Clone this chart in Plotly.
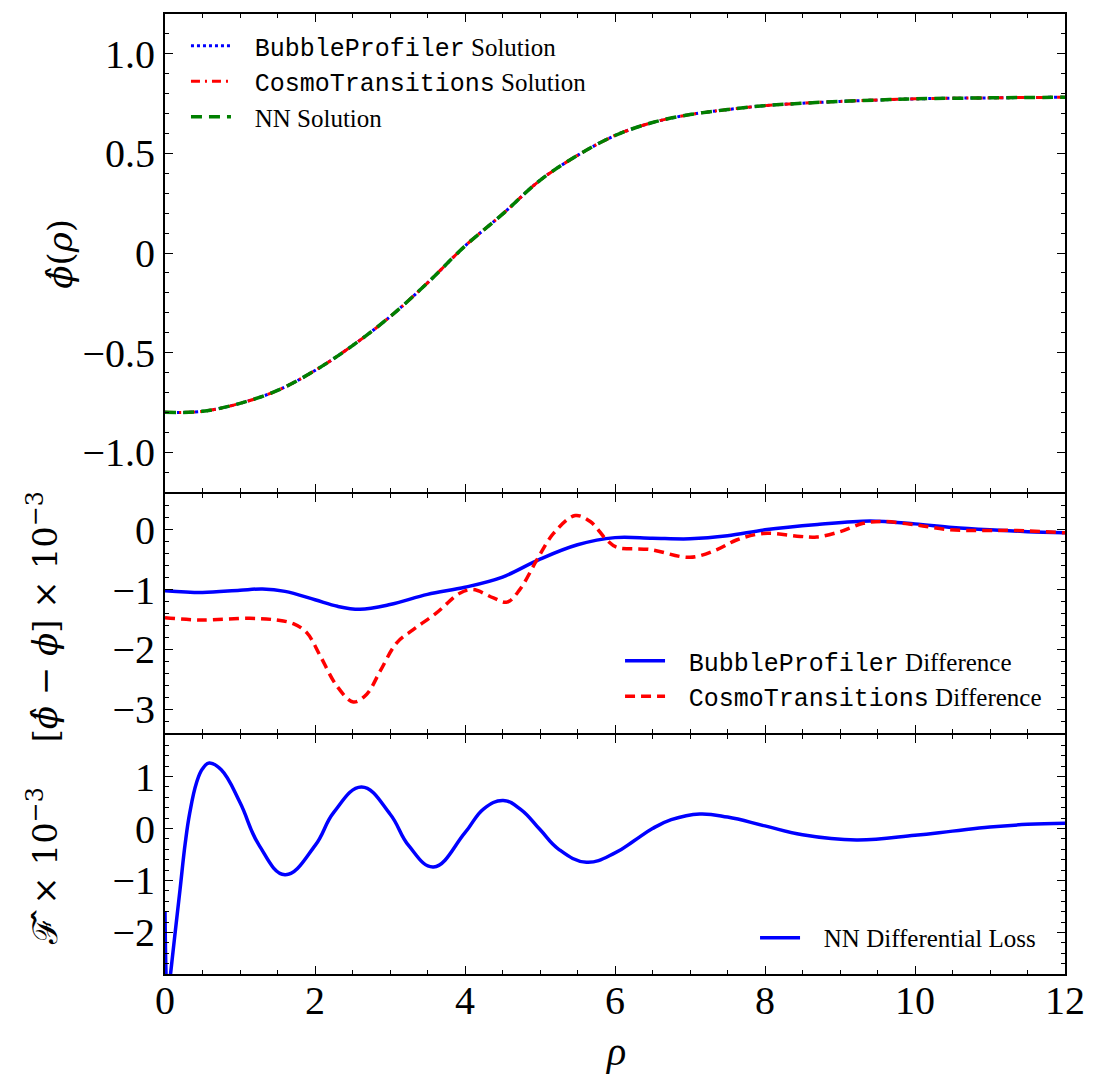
import plotly.graph_objects as go
from plotly.subplots import make_subplots

# ---------------- data ----------------
# Top panel: field profiles phi(rho)
rho_phi = [0, 0.5, 1.0, 1.5, 2.0, 2.5, 3.0, 3.5, 4.0, 4.5, 5.0, 5.5, 6.0, 6.5,
           7.0, 7.5, 8.0, 8.5, 9.0, 9.5, 10.0, 11.0, 12.0]
phi_bubbleprofiler = [-0.80, -0.795, -0.755, -0.69, -0.59, -0.465, -0.32, -0.15, 0.035,
                      0.195, 0.365, 0.49, 0.59, 0.655, 0.695, 0.72, 0.74, 0.752, 0.761,
                      0.768, 0.774, 0.779, 0.782]
phi_cosmotransitions = [-0.80, -0.795, -0.755, -0.69, -0.59, -0.465, -0.32, -0.15, 0.035,
                        0.195, 0.365, 0.49, 0.59, 0.655, 0.695, 0.72, 0.74, 0.752, 0.761,
                        0.768, 0.774, 0.779, 0.782]
phi_nn = [-0.80, -0.795, -0.755, -0.69, -0.59, -0.465, -0.32, -0.15, 0.035,
          0.195, 0.365, 0.49, 0.59, 0.655, 0.695, 0.72, 0.74, 0.752, 0.761,
          0.768, 0.774, 0.779, 0.782]

# Middle panel: differences (x 10^-3)
rho_diff_bp = [0, 0.5, 1.0, 1.3, 1.6, 2.0, 2.3, 2.6, 3.0, 3.5, 4.0, 4.5, 5.0, 5.5,
               6.0, 6.5, 7.0, 7.5, 8.0, 8.7, 9.4, 10.0, 10.5, 11.0, 11.5, 12.0]
diff_bp = [-1.02, -1.05, -1.01, -0.99, -1.03, -1.17, -1.28, -1.33, -1.25, -1.08, -0.96,
           -0.79, -0.49, -0.25, -0.13, -0.14, -0.15, -0.1, 0.0, 0.09, 0.15, 0.1, 0.04,
           0.0, -0.03, -0.05]

rho_diff_ct = [0, 0.47, 1.13, 1.49, 1.71, 1.89, 2.07, 2.29, 2.51, 2.69, 2.87, 3.09,
               3.31, 3.62, 3.93, 4.11, 4.38, 4.56, 4.73, 4.96, 5.18, 5.47, 5.67,
               5.89, 6.02, 6.47, 7.0, 7.36, 7.62, 7.98, 8.47, 8.69, 9.0, 9.31,
               9.58, 10.02, 10.47, 10.91, 11.36, 12.0]
diff_ct = [-1.47, -1.51, -1.48, -1.51, -1.57, -1.72, -2.11, -2.61, -2.88, -2.75, -2.36,
           -1.89, -1.67, -1.39, -1.06, -1.0, -1.14, -1.21, -1.0, -0.5, -0.06, 0.24,
           0.14, -0.17, -0.29, -0.33, -0.46, -0.33, -0.17, -0.06, -0.11, -0.12, -0.03,
           0.11, 0.14, 0.08, 0.0, -0.01, -0.01, -0.05]

# Bottom panel: NN differential loss (x 10^-3)
rho_loss = [0, 0.035, 0.07, 0.13, 0.2, 0.27, 0.33, 0.42, 0.5, 0.59, 0.75, 1.0, 1.25,
            1.6, 2.0, 2.25, 2.62, 3.0, 3.25, 3.58, 4.0, 4.25, 4.51, 4.75, 5.0,
            5.25, 5.62, 6.0, 6.25, 6.5, 6.75, 7.13, 7.5, 8.0, 8.5, 9.22, 10.0,
            10.5, 11.0, 11.5, 12.0]
loss_nn = [-1.6, -3.3, -2.85, -2.07, -1.18, -0.28, 0.3, 0.88, 1.15, 1.26, 1.13, 0.5,
           -0.31, -0.89, -0.33, 0.31, 0.80, 0.28, -0.33, -0.74, -0.08, 0.38, 0.54,
           0.36, -0.02, -0.40, -0.65, -0.47, -0.24, 0.0, 0.17, 0.28, 0.22, 0.05,
           -0.12, -0.22, -0.13, -0.05, 0.03, 0.08, 0.1]

x_ticks = [0, 2, 4, 6, 8, 10, 12]
y1_ticks = [1.0, 0.5, 0, -0.5, -1.0]
y1_text = ["1.0", "0.5", "0", "\u22120.5", "\u22121.0"]
y2_ticks = [0, -1, -2, -3]
y2_text = ["0", "\u22121", "\u22122", "\u22123"]
y3_ticks = [1, 0, -1, -2]
y3_text = ["1", "0", "\u22121", "\u22122"]

# ---------------- figure ----------------
SERIF = "Liberation Serif, DejaVu Serif, serif"
TITLE_SERIF = "DejaVu Serif, Liberation Serif, serif"
PAD = "&nbsp;&nbsp;&nbsp;"

def mono(s):
    return ('<span style="font-family:Liberation Mono, DejaVu Sans Mono, monospace">'
            + s + '</span>')

fig = make_subplots(rows=3, cols=1, shared_xaxes=True, vertical_spacing=2 / 960,
                    row_heights=[0.5, 0.25, 0.25])

fig.add_trace(go.Scatter(x=rho_phi, y=phi_bubbleprofiler, mode="lines", line_shape="spline",
                         line=dict(color="#0000ff", width=3, dash="3px,3px"),
                         name=PAD + mono("BubbleProfiler") + " Solution", legend="legend",
                         legendgroup="a"), row=1, col=1)
fig.add_trace(go.Scatter(x=rho_phi, y=phi_cosmotransitions, mode="lines", line_shape="spline",
                         line=dict(color="#ff0000", width=3, dash="9px,5px,2px,5px"),
                         name=PAD + mono("CosmoTransitions") + " Solution", legend="legend",
                         legendgroup="b"), row=1, col=1)
fig.add_trace(go.Scatter(x=rho_phi, y=phi_nn, mode="lines", line_shape="spline",
                         line=dict(color="#008000", width=3.5, dash="11px,7px"),
                         name=PAD + "NN Solution", legend="legend", legendgroup="c"),
              row=1, col=1)

fig.add_trace(go.Scatter(x=rho_diff_bp, y=diff_bp, mode="lines", line_shape="spline",
                         line=dict(color="#0000ff", width=3.5),
                         name=PAD + mono("BubbleProfiler") + " Difference", legend="legend2",
                         legendgroup="d"), row=2, col=1)
fig.add_trace(go.Scatter(x=rho_diff_ct, y=diff_ct, mode="lines", line_shape="spline",
                         line=dict(color="#ff0000", width=3.5, dash="10px,6px"),
                         name=PAD + mono("CosmoTransitions") + " Difference", legend="legend2",
                         legendgroup="e"), row=2, col=1)

fig.add_trace(go.Scatter(x=rho_loss, y=loss_nn, mode="lines", line_shape="spline",
                         line=dict(color="#0000ff", width=3.5, smoothing=1.2),
                         name=PAD + "NN Differential Loss", legend="legend3",
                         legendgroup="f"), row=3, col=1)

axis_common = dict(showline=True, linewidth=2, linecolor="black", mirror="allticks",
                   ticks="inside", ticklen=8, tickwidth=1.3, tickcolor="black",
                   showgrid=False, zeroline=False,
                   tickfont=dict(family=SERIF, size=40, color="black"))

for r in (1, 2, 3):
    fig.update_xaxes(range=[0, 12], tickmode="array", tickvals=x_ticks,
                     ticktext=[str(v) for v in x_ticks],
                     minor=dict(tickmode="linear", tick0=0, dtick=0.5, ticks="inside",
                                ticklen=4, tickwidth=1, tickcolor="black"),
                     row=r, col=1, **axis_common)

fig.update_xaxes(showticklabels=True, ticklabelstandoff=-10, row=3, col=1)

fig.update_yaxes(range=[-1.2, 1.2], tickmode="array", tickvals=y1_ticks, ticktext=y1_text,
                 minor=dict(tickmode="linear", tick0=0, dtick=0.1, ticks="inside",
                            ticklen=4, tickwidth=1, tickcolor="black"),
                 row=1, col=1, **axis_common)
fig.update_yaxes(range=[-3.4, 0.6], tickmode="array", tickvals=y2_ticks, ticktext=y2_text,
                 minor=dict(tickmode="linear", tick0=0, dtick=0.2, ticks="inside",
                            ticklen=4, tickwidth=1, tickcolor="black"),
                 row=2, col=1, **axis_common)
fig.update_yaxes(range=[-2.8, 1.8], tickmode="array", tickvals=y3_ticks, ticktext=y3_text,
                 minor=dict(tickmode="linear", tick0=0, dtick=0.2, ticks="inside",
                            ticklen=4, tickwidth=1, tickcolor="black"),
                 row=3, col=1, **axis_common)

def legend_cfg(x, y):
    return dict(x=x, y=y, xanchor="left", yanchor="top", bgcolor="rgba(0,0,0,0)",
                font=dict(family=SERIF, size=25, color="black"), itemwidth=40,
                tracegroupgap=0, traceorder="grouped")

anno_font = dict(family=SERIF, size=40, color="black")
title_font = dict(family=TITLE_SERIF, size=34, color="black")
fig.update_layout(
    width=1100, height=1087,
    margin=dict(l=165, r=35, t=14, b=113),
    paper_bgcolor="white", plot_bgcolor="white",
    showlegend=True,
    legend=legend_cfg(0.0233, 0.9906),
    legend2=legend_cfg(0.5056, 0.35),
    legend3=legend_cfg(0.6556, 0.0615),
    annotations=[
        dict(text="<i>\u03d5\u0302</i>(<i>\u03c1</i>)", x=-0.117, y=0.75, xref="paper",
             yref="paper", textangle=-90, showarrow=False, font=title_font,
             xanchor="center", yanchor="middle"),
        dict(text="[<i>\u03d5\u0302</i> \u2212 <i>\u03d5</i>] \u00d7 10<sup>\u22123</sup>",
             x=-0.136, y=0.372, xref="paper", yref="paper", textangle=-90, showarrow=False,
             font=title_font, xanchor="center", yanchor="middle"),
        dict(text="\u2131\u0302 \u00d7 10<sup>\u22123</sup>",
             x=-0.136, y=0.1125, xref="paper", yref="paper", textangle=-90, showarrow=False,
             font=title_font, xanchor="center", yanchor="middle"),
        dict(text="<i>\u03c1</i>", x=0.5, y=-0.081, xref="paper", yref="paper",
             showarrow=False, font=anno_font, xanchor="center", yanchor="middle"),
    ],
)

fig.write_html("out.html")
